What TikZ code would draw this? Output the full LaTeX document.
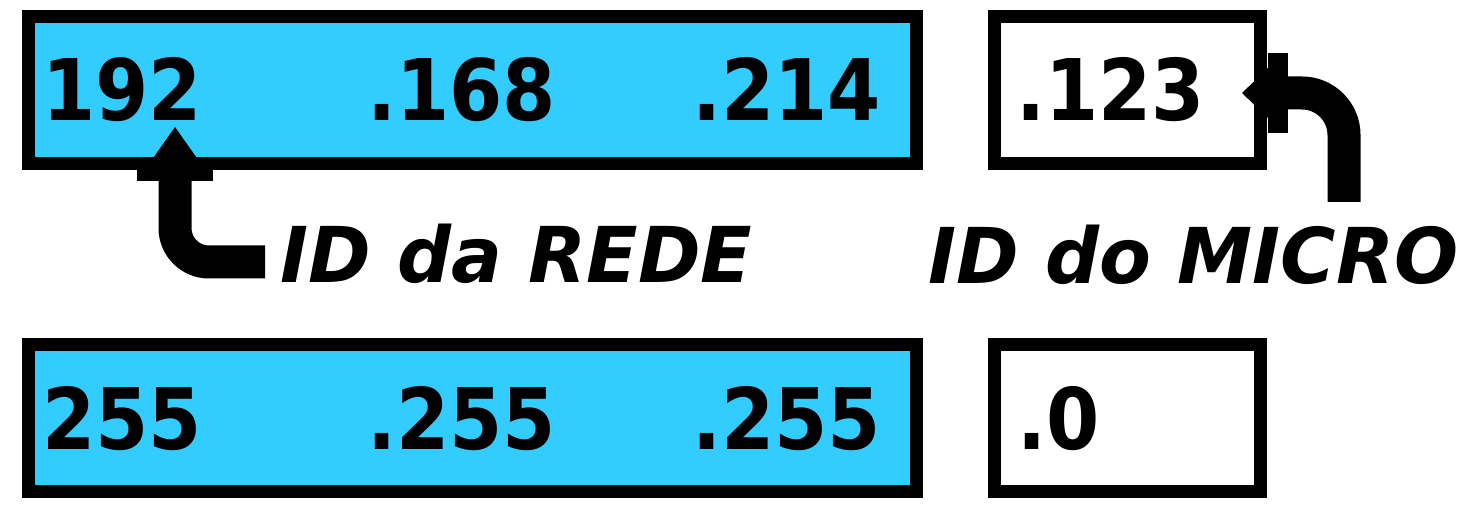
\documentclass[tikz,border=0pt]{standalone}
\usepackage{fontspec}
\usetikzlibrary{arrows.meta}
\newfontfamily\numfont[FakeStretch=0.9]{DejaVu Sans}
\newfontfamily\labfont[FakeStretch=0.98]{DejaVu Sans}
\definecolor{boxblue}{RGB}{51,204,255}
\tikzset{
  boxbase/.style={draw=black, line width=6.5pt, inner sep=0pt, rectangle},
  bluebox/.style={boxbase, fill=boxblue, minimum width=444pt, minimum height=73.5pt},
  whitebox/.style={boxbase, fill=white, minimum width=133pt, minimum height=73.5pt},
  num/.style={anchor=base west, inner sep=0pt, font=\numfont\bfseries\fontsize{42.5pt}{50pt}\selectfont},
  lab/.style={anchor=base west, inner sep=0pt, font=\labfont\bfseries\itshape\fontsize{38.5pt}{46pt}\selectfont},
  bigarrow/.style={line width=16.5pt, rounded corners=17pt}
}
\begin{document}
\begin{tikzpicture}[x=0.5pt,y=-0.5pt]
\useasboundingbox (0,0) rectangle (1461,522);
% boxes
\node[bluebox] (b1) at (472.5,90) {};
\node[whitebox] (w1) at (1127.5,90) {};
\node[bluebox] (b2) at (472.5,418.5) {};
\node[whitebox] (w2) at (1127.5,418.5) {};
% numbers
\node[num] (n1) at (42,121) {192};
\node[num] (n2) at (367,121) {.168};
\node[num] (n3) at (692,121) {.214};
\node[num] (n4) at (1016,121) {.123};
\node[num] (m1) at (42,450) {255};
\node[num] (m2) at (367,450) {.255};
\node[num] (m3) at (692,450) {.255};
\node[num] (m4) at (1017,450) {.0};
% labels
\node[lab] (lrede) at (280,283) {ID da REDE};
\node[lab] (lmicro) at (928,284) {ID do MICRO};
% arrows
\coordinate (h1) at (175,127);
\coordinate (tail1) at (265,262);
\coordinate (tail2) at (1344,202);
\coordinate (h2) at (1242,93);
\draw[bigarrow, -{Rectangle[length=7.5pt,width=38pt,line width=0pt] Triangle[length=19.5pt,width=27.5pt,line width=0pt]}] (tail1) -| (h1);
\draw[bigarrow, rounded corners=21pt, -{Rectangle[length=10pt,width=40pt,line width=0pt] Triangle[length=13pt,width=25pt,line width=0pt]}] (tail2) |- (h2);
\end{tikzpicture}
\end{document}
